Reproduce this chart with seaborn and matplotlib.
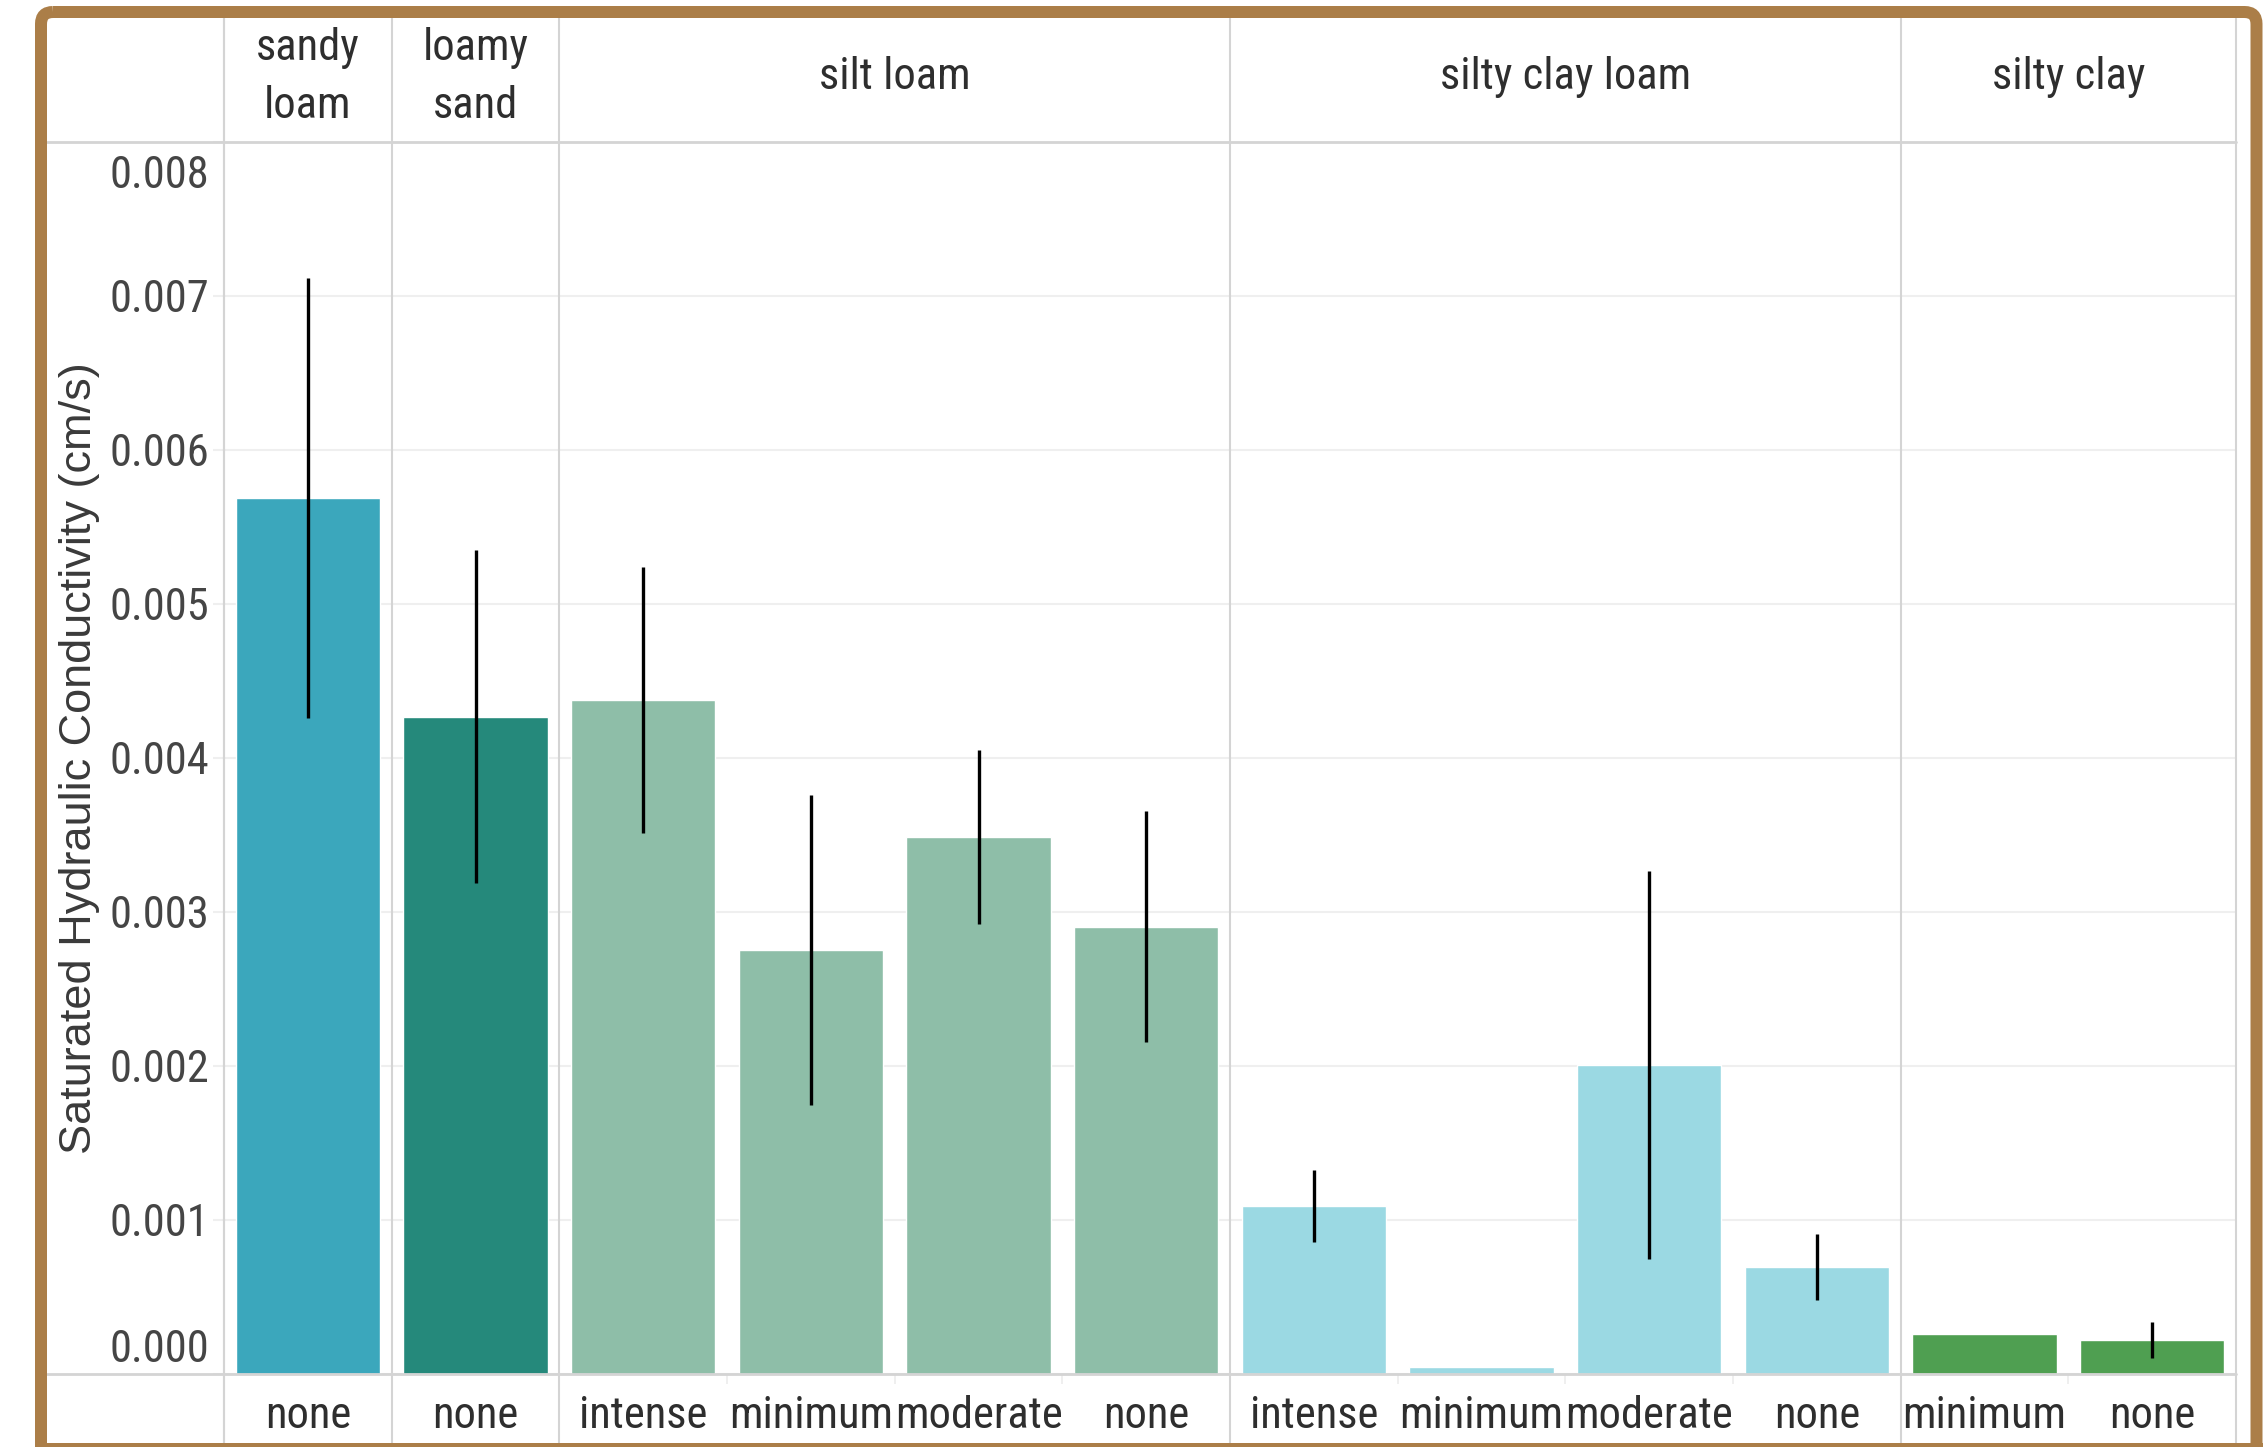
import numpy as np
import pandas as pd
import matplotlib
matplotlib.use("Agg")
import matplotlib.pyplot as plt
import matplotlib.transforms as mtransforms
from matplotlib import font_manager
from matplotlib.patches import FancyBboxPatch, Rectangle
from matplotlib.lines import Line2D
from matplotlib.ticker import FixedLocator
import seaborn as sns

# ---- data -------------------------------------------------------------
soil_types = ["sandy loam", "loamy sand", "silt loam", "silty clay loam", "silty clay"]
soil_headers = ["sandy\nloam", "loamy\nsand", "silt loam", "silty clay loam", "silty clay"]
soil_colors = ["#3BA7BC", "#25897B", "#8EBEA8", "#9BD9E3", "#4F9F51"]

bar_soil = ["sandy loam", "loamy sand",
            "silt loam", "silt loam", "silt loam", "silt loam",
            "silty clay loam", "silty clay loam", "silty clay loam", "silty clay loam",
            "silty clay", "silty clay"]
bar_compaction = ["none", "none",
                  "intense", "minimum", "moderate", "none",
                  "intense", "minimum", "moderate", "none",
                  "minimum", "none"]
ksat_mean = [0.005686, 0.004268, 0.004377, 0.002755, 0.003490, 0.002905,
             0.001093, 0.000043, 0.002006, 0.000695, 0.000262, 0.000221]
ksat_err = [0.001429, 0.001082, 0.000865, 0.001007, 0.000565, 0.000752,
            0.000233, np.nan, 0.001258, 0.000217, np.nan, 0.000114]

y_ticks = [0.000, 0.001, 0.002, 0.003, 0.004, 0.005, 0.006, 0.007, 0.008]
y_label = "Saturated Hydraulic Conductivity (cm/s)"

# ---- fonts ------------------------------------------------------------
sns.set_theme(style="white")
available = {f.name for f in font_manager.fontManager.ttflist}
narrow_family, narrow_scale = "Liberation Sans", 0.84
for cand in ["Liberation Sans Narrow", "Arial Narrow", "Roboto Condensed",
             "Open Sans Condensed"]:
    if cand in available:
        narrow_family, narrow_scale = cand, 1.0
        break
regular_family = "Liberation Sans" if "Liberation Sans" in available else "DejaVu Sans"
plt.rcParams["font.family"] = [narrow_family, "DejaVu Sans"]

LABEL_SIZE = 32 * narrow_scale
TEXT_DARK = "#2E2E2E"
TICK_GRAY = "#454545"
RULE = "#D4D4D4"
GRID = "#EFEFEF"
FRAME = "#AB7E48"

# ---- figure & axes ----------------------------------------------------
W, H = 2263, 1447
fig = plt.figure(figsize=(W / 100, H / 100), dpi=100, facecolor="white")

px = mtransforms.Affine2D().scale(1 / W, -1 / H).translate(0, 1) + fig.transFigure

plot_left, plot_right, plot_top, plot_bottom = 224, 2236, 142, 1374
ax = fig.add_axes([plot_left / W, 1 - plot_bottom / H,
                   (plot_right - plot_left) / W, (plot_bottom - plot_top) / H])

df = pd.DataFrame({
    "bar": [f"{s}|{c}" for s, c in zip(bar_soil, bar_compaction)],
    "soil": bar_soil,
    "compaction": bar_compaction,
    "ksat": ksat_mean,
    "err": ksat_err,
})

sns.barplot(data=df, x="bar", y="ksat", hue="soil", order=list(df["bar"]),
            hue_order=soil_types, palette=soil_colors, dodge=False, width=0.86,
            saturation=1, errorbar=None, legend=False, ax=ax, zorder=2)

pos = np.arange(len(df))
has_err = df["err"].notna().to_numpy()
ax.errorbar(pos[has_err], df["ksat"][has_err], yerr=df["err"][has_err],
            fmt="none", ecolor="black", elinewidth=2.4, capsize=0, zorder=3)

ax.set_xlim(-0.5, len(df) - 0.5)
ax.set_ylim(y_ticks[0], y_ticks[-1])
ax.set_xlabel("")
ax.set_ylabel("")
for sp in ax.spines.values():
    sp.set_visible(False)

# horizontal grid with short stubs reaching into the label column
ax.set_yticks(y_ticks)
ax.set_yticklabels([])
ax.yaxis.grid(True, color=GRID, lw=1.5)
ax.set_axisbelow(True)
ax.tick_params(axis="y", which="major", length=8, width=1.5, color=GRID, left=True)

# faint separators between treatments inside a soil group
group_sizes = [bar_soil.count(s) for s in soil_types]
group_edges = np.concatenate([[0], np.cumsum(group_sizes)]) - 0.5
inner_edges = [p + 0.5 for p in pos[:-1] if (p + 0.5) not in group_edges]
ax.set_xticks([])
ax.xaxis.set_minor_locator(FixedLocator(inner_edges))
ax.tick_params(axis="x", which="minor", bottom=True, length=7, width=1.2,
               color="#ECECEC", direction="out")
ax.tick_params(axis="x", which="major", bottom=False)

# y tick labels, Tableau style: end labels kept inside the pane
ybase = mtransforms.blended_transform_factory(ax.transAxes, ax.transData)
for i, v in enumerate(y_ticks):
    if i == 0:
        dy = 12
    elif i == len(y_ticks) - 1:
        dy = -46
    else:
        dy = -15.7
    tr = mtransforms.offset_copy(ybase, fig=fig, x=-15, y=dy, units="dots")
    ax.text(0, v, f"{v:.3f}", transform=tr, ha="right", va="baseline",
            fontsize=LABEL_SIZE, color=TICK_GRAY)

# ---- table rules --------------------------------------------------------
inner_left, inner_top, inner_bottom = 47, 18, 1443
x_data_fig = mtransforms.blended_transform_factory(ax.transData, px)
for edge in group_edges:
    fig.add_artist(Line2D([edge, edge], [inner_top, inner_bottom],
                          transform=x_data_fig, color=RULE, lw=1.5, zorder=1))
fig.add_artist(Line2D([plot_left, plot_left], [inner_top, inner_bottom],
                      transform=px, color=RULE, lw=1.5))
for yy in (plot_top, plot_bottom):
    fig.add_artist(Line2D([inner_left, plot_right], [yy, yy],
                          transform=px, color=RULE, lw=2.0))

# ---- header (soil type) and footer (compaction) labels -----------------
for k, s in enumerate(soil_types):
    center = (group_edges[k] + group_edges[k + 1]) / 2
    lines = soil_headers[k].split("\n")
    n = len(lines)
    for j, line in enumerate(lines):
        baseline = 89 + (j - (n - 1) / 2) * 58
        fig.text(center, baseline, line, transform=x_data_fig, ha="center",
                 va="baseline", fontsize=LABEL_SIZE, color=TEXT_DARK)

for p, c in zip(pos, bar_compaction):
    fig.text(p, 1428, c, transform=x_data_fig, ha="center", va="baseline",
             fontsize=LABEL_SIZE, color=TEXT_DARK)

fig.text(80, (plot_top + plot_bottom) / 2, y_label, transform=px, rotation=90,
         ha="center", va="center", fontsize=32.5, color="#3A3A3A",
         family=[regular_family, "DejaVu Sans"])

# ---- outer frame: rounded top corners, runs off the bottom edge ---------
frame = FancyBboxPatch((41, 12), 2256.5 - 41, 1520 - 12,
                       boxstyle="round,pad=0,rounding_size=12",
                       transform=px, facecolor="none", edgecolor=FRAME,
                       lw=12 * 0.72, zorder=10)
fig.add_artist(frame)
fig.add_artist(Rectangle((35, 1443), W - 35, 10, transform=px,
                         facecolor=FRAME, edgecolor="none", zorder=10))

fig.savefig("out.png", dpi=100, facecolor="white")
